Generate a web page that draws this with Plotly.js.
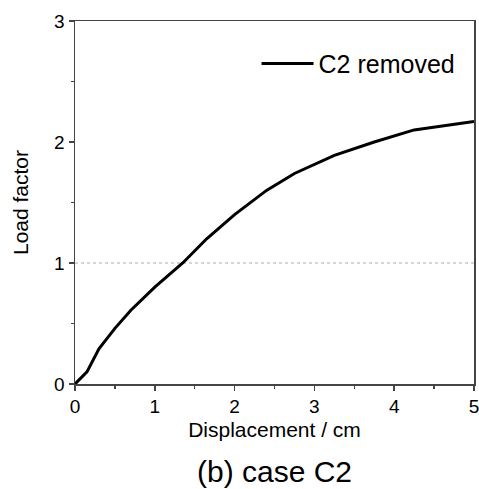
<!DOCTYPE html>
<html>
<head>
<meta charset="utf-8">
<script src="https://cdn.plot.ly/plotly-3.0.1.min.js"></script>
<style>html,body{margin:0;padding:0;background:#fff;}#chart{width:479px;height:489px;}</style>
</head>
<body>
<div id="chart"></div>
<script>
const displacement = [0, 0.15, 0.3, 0.5, 0.7, 1.0, 1.35, 1.65, 2.0, 2.4, 2.75, 3.25, 3.75, 4.25, 5.0];
const loadFactor   = [0, 0.10, 0.29, 0.46, 0.61, 0.80, 1.00, 1.20, 1.40, 1.60, 1.74, 1.89, 2.00, 2.10, 2.17];
const seriesName = "C2 removed";
const refLevel = 1;
const xTicks = [0, 1, 2, 3, 4, 5];
const yTicks = [0, 1, 2, 3];
const caption = "(b) case C2";

const font = "Liberation Sans, Arial, sans-serif";
const axisColor = "#444";

const trace = {
  x: displacement, y: loadFactor, type: "scatter", mode: "lines",
  name: seriesName, line: {color: "#000", width: 3}
};

const layout = {
  width: 479, height: 489,
  margin: {l: 75, r: 5, t: 21, b: 105},
  paper_bgcolor: "#fff", plot_bgcolor: "#fff",
  font: {family: font, color: "#000"},
  showlegend: true,
  legend: {x: 0.455, y: 0.882, xanchor: "left", yanchor: "middle", itemwidth: 52,
           font: {size: 25, family: font}, bgcolor: "rgba(0,0,0,0)"},
  xaxis: {
    range: [0, 5], tickvals: xTicks, ticks: "outside", ticklen: 5, tickwidth: 1.5,
    tickcolor: axisColor, showline: true, linecolor: axisColor, linewidth: 1.5,
    mirror: true, showgrid: false, zeroline: false, automargin: false,
    ticklabeloverflow: "allow",
    tickfont: {size: 19, family: font},
    minor: {dtick: 0.5, ticks: "outside", ticklen: 3, tickwidth: 1.5, tickcolor: axisColor, showgrid: false},
    title: {text: "Displacement / cm", font: {size: 21, family: font}, standoff: 6}
  },
  yaxis: {
    range: [0, 3], tickvals: yTicks, ticks: "outside", ticklen: 5, tickwidth: 1.5,
    tickcolor: axisColor, showline: true, linecolor: axisColor, linewidth: 1.5,
    mirror: true, showgrid: false, zeroline: false, automargin: false,
    ticklabeloverflow: "allow",
    tickfont: {size: 19, family: font},
    minor: {dtick: 0.5, ticks: "outside", ticklen: 3, tickwidth: 1.5, tickcolor: axisColor, showgrid: false},
    title: {text: "Load factor", font: {size: 21, family: font}, standoff: 20}
  },
  shapes: [{
    type: "line", xref: "paper", x0: 0, x1: 1, yref: "y", y0: refLevel, y1: refLevel,
    line: {color: "#aaa", width: 1, dash: "dot"}, layer: "below"
  }],
  annotations: [{
    text: caption, xref: "paper", yref: "paper", x: 0.5, y: 0, yshift: -87,
    xanchor: "center", yanchor: "middle", showarrow: false,
    font: {size: 30, family: font}
  }]
};

Plotly.newPlot("chart", [trace], layout, {displayModeBar: false, staticPlot: true});
</script>
</body>
</html>
